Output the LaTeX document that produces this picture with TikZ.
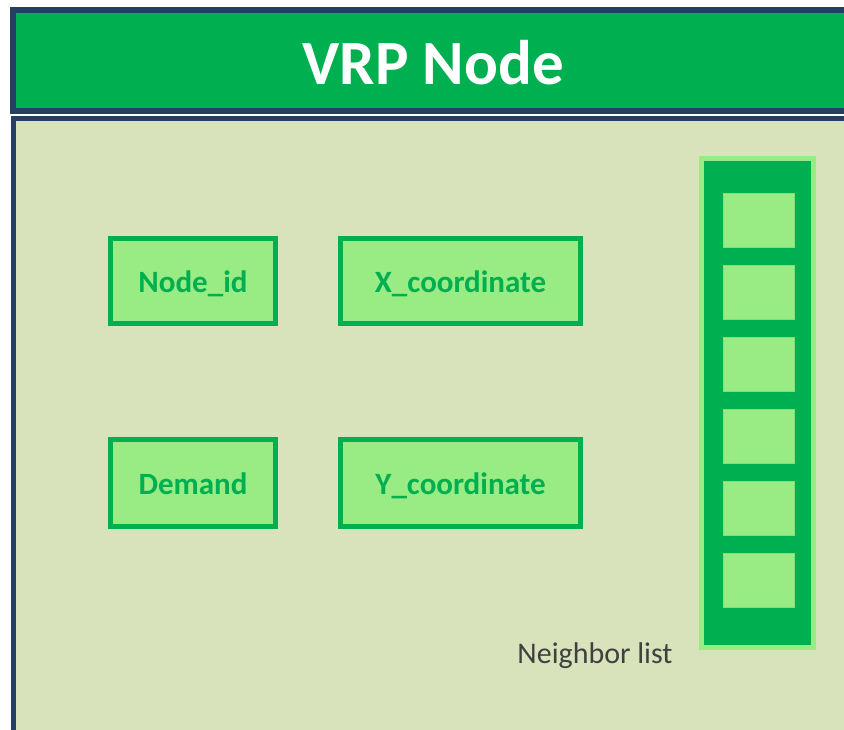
\documentclass[tikz,border=0pt]{standalone}
\usepackage{fontspec}
\setmainfont{Carlito}
\definecolor{frameblue}{HTML}{253F62}
\definecolor{vrpgreen}{HTML}{00B050}
\definecolor{paleolive}{HTML}{D8E3BC}
\definecolor{lightgreen}{HTML}{99EB84}
\definecolor{textgrey}{HTML}{404040}
\tikzset{
  field/.style={draw=vrpgreen, fill=lightgreen, line width=5pt, inner sep=0pt,
    minimum height=85pt, text=vrpgreen, font=\fontsize{31}{36}\selectfont\bfseries},
  fieldtext/.style={text=vrpgreen, font=\fontsize{31}{36}\selectfont\bfseries},
  slot/.style={draw=lightgreen!85!vrpgreen, fill=lightgreen, line width=0.8pt,
    inner sep=0pt, minimum width=71pt, minimum height=54pt},
}
\begin{document}
\begin{tikzpicture}[x=1pt, y=-1pt]
\useasboundingbox (0,0) rectangle (844,729);
\clip (0,0) rectangle (844,729);
% title bar
\draw[frameblue, line width=6pt, fill=vrpgreen] (13,10) rectangle (880,111);
\node[text=white, font=\fontsize{63}{70}\selectfont\bfseries] (title) at (433,63) {VRP Node};
% body panel
\draw[frameblue, line width=5pt, fill=paleolive] (13.5,118.5) rectangle (880,780);
% attribute fields
\node[field, minimum width=165pt] (nodeid) at (193,281) {};
\node[field, minimum width=240pt] (xcoord) at (460.5,281) {};
\node[field, minimum width=165pt, minimum height=87pt] (demand) at (193,483) {};
\node[field, minimum width=240pt, minimum height=87pt] (ycoord) at (460.5,483) {};
\node[fieldtext, anchor=base] (tnodeid) at ([yshift=-11pt]nodeid.center) {Node\_id};
\node[fieldtext, anchor=base] (txcoord) at ([yshift=-11pt]xcoord.center) {X\_coordinate};
\node[fieldtext, anchor=base] (tdemand) at ([yshift=-11pt]demand.center) {Demand};
\node[fieldtext, anchor=base] (tycoord) at ([yshift=-11pt]ycoord.center) {Y\_coordinate};
% neighbor list column
\node[draw=lightgreen, fill=vrpgreen, line width=5pt, inner sep=0pt,
  minimum width=112pt, minimum height=489pt] (nlist) at (757.5,403) {};
\foreach \k in {0,...,5}{
  \node[slot] (cell\k) at (759,220.5+72*\k) {};
}
\node[text=textgrey, font=\fontsize{30}{34}\selectfont, anchor=base] (nlabel) at (595,663) {Neighbor list};
\end{tikzpicture}
\end{document}
